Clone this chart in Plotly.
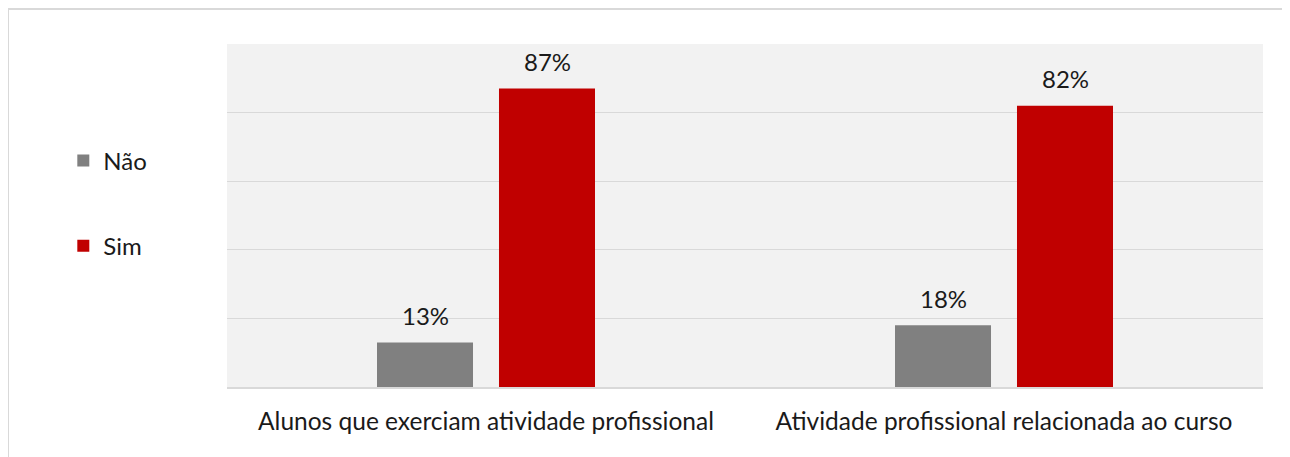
import plotly.graph_objects as go

categories = ["Alunos que exerciam atividade profissional", "Atividade profissional relacionada ao curso"]
nao_values = [0.13, 0.18]
sim_values = [0.87, 0.82]
series_names = ["Não", "Sim"]
colors = ["#808080", "#C00000"]

FONT = "Lato, 'Open Sans', sans-serif"
FS = 24

fig = go.Figure()
for name, vals, col, grp in zip(series_names, [nao_values, sim_values], colors, ["a", "b"]):
    fig.add_trace(go.Bar(
        x=categories, y=vals, name=name, marker_color=col,
        marker_line_width=0, legendgroup=grp,
    ))

# data labels
for vals, shift in zip([nao_values, sim_values], [-61, 61]):
    for c, v in zip(categories, vals):
        fig.add_annotation(x=c, y=v, text=f"{round(v*100)}%", showarrow=False,
                           xshift=shift, yshift=27, yanchor="middle",
                           font=dict(size=FS, color="#1a1a1a", family=FONT))

# outer frame
fig.add_shape(type="rect", xref="paper", yref="paper", x0=-0.2114, x1=1.2, y0=-0.5, y1=1.102,
              line=dict(color="#D9D9D9", width=2), fillcolor="rgba(0,0,0,0)", layer="below")

fig.update_layout(
    width=1282, height=449,
    margin=dict(l=219, r=27, t=36, b=70),
    paper_bgcolor="white", plot_bgcolor="#F2F2F2",
    barmode="group", bargap=0.529, bargroupgap=0.213,
    font=dict(family=FONT, size=FS, color="#1a1a1a"),
    legend=dict(x=-0.158, xanchor="left", y=0.535, yanchor="middle",
                traceorder="grouped", tracegroupgap=51,
                font=dict(size=FS, family=FONT, color="#1a1a1a"),
                itemwidth=30, bgcolor="rgba(0,0,0,0)"),
    showlegend=True,
)
fig.update_yaxes(range=[0, 1], dtick=0.2, showticklabels=False, showgrid=True,
                 gridcolor="#D9D9D9", gridwidth=1, zeroline=False, showline=False, fixedrange=True)
fig.update_xaxes(showline=True, linecolor="#D9D9D9", linewidth=2, ticks="",
                 ticklabelstandoff=12, tickfont=dict(size=24.5, family=FONT, color="#1a1a1a"))

fig.write_html("out.html")
